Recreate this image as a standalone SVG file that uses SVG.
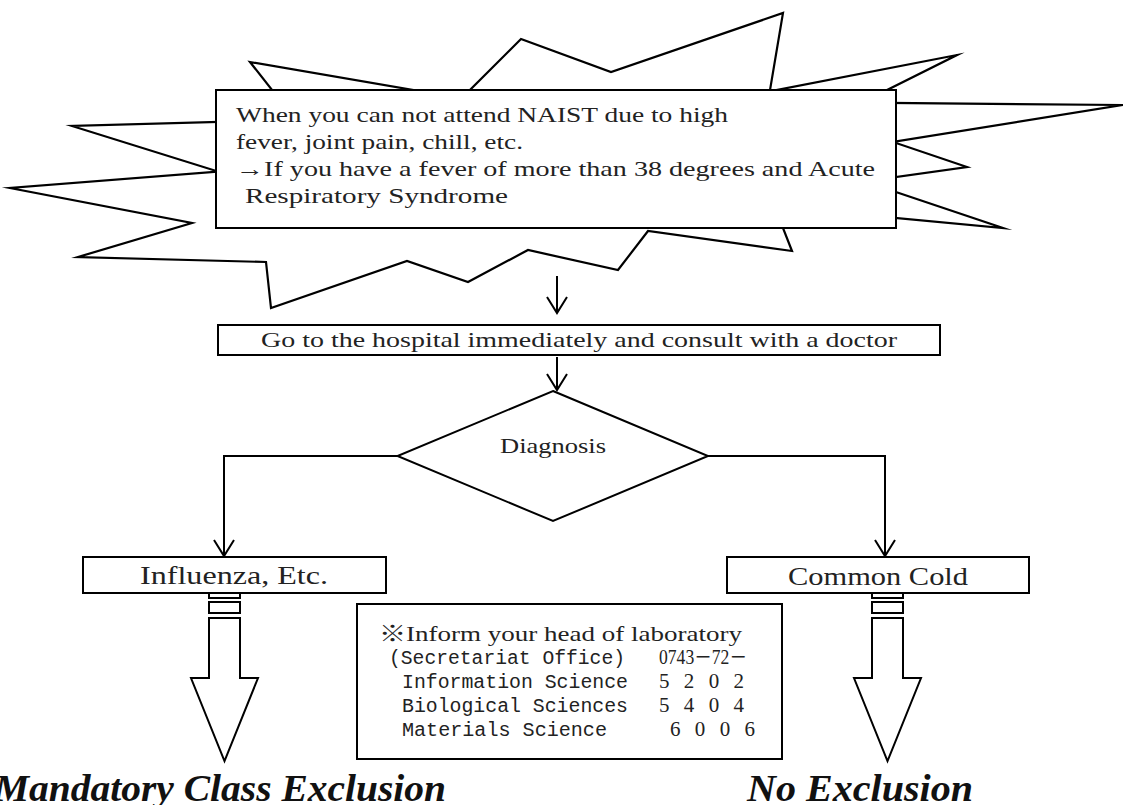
<svg xmlns="http://www.w3.org/2000/svg" width="1123" height="805" viewBox="0 0 1123 805">
<style>
.ln{fill:none;stroke:#000;stroke-width:2}
.ah{fill:none;stroke:#000;stroke-width:2;stroke-linejoin:miter}
.bx{fill:#fff;stroke:#000;stroke-width:2}
.st{fill:#fff;stroke:#000;stroke-width:2.2;stroke-linejoin:miter;stroke-miterlimit:20}
.t{font-family:"Liberation Serif","Noto Sans CJK JP",serif;fill:#222}
.m{font-family:"Liberation Mono","Noto Sans CJK JP",monospace;fill:#222}
.big{font-family:"Liberation Serif",serif;font-weight:bold;font-style:italic;font-size:37px;fill:#111}
</style>
<g id="start">
<polygon class="st" points="250,62 461.6,98.4 521,39 611,72 783,13 769.8,91.4 957,55 861.6,102.7 1122,105 893,142 967,167 864.6,181.5 1003,228 774.6,206.6 792,251 648,231 618,270 528,250 468,282 407,261 271,308 266,262 78,257 192,223 10,188 218,171.5 72,126 295.4,119.8"/>
<rect class="bx" x="216" y="90" width="680" height="138"/>
<text class="t" font-size="22" x="236" y="122" textLength="492" lengthAdjust="spacingAndGlyphs">When you can not attend NAIST due to high</text>
<text class="t" font-size="22" x="236" y="149" textLength="287" lengthAdjust="spacingAndGlyphs">fever, joint pain, chill, etc.</text>
<text class="t" font-size="22" x="236" y="176" textLength="639" lengthAdjust="spacingAndGlyphs">→If you have a fever of more than 38 degrees and Acute</text>
<text class="t" font-size="22" x="245" y="203" textLength="263" lengthAdjust="spacingAndGlyphs">Respiratory Syndrome</text>
</g>
<g id="hospital">
<rect class="bx" x="218" y="325" width="722" height="30"/>
<text class="t" font-size="22" x="261" y="347" textLength="636" lengthAdjust="spacingAndGlyphs">Go to the hospital immediately and consult with a doctor</text>
</g>
<g id="diagnosis">
<polygon class="bx" points="553,391 708,456 553,521 397.5,456"/>
<text class="t" font-size="22" x="553" y="453" text-anchor="middle" textLength="106" lengthAdjust="spacingAndGlyphs">Diagnosis</text>
</g>
<g id="influenza">
<rect class="bx" x="83" y="557" width="303" height="36"/>
<text class="t" font-size="26" x="140" y="584" textLength="188" lengthAdjust="spacingAndGlyphs">Influenza, Etc.</text>
</g>
<g id="cold">
<rect class="bx" x="727" y="557" width="302" height="36"/>
<text class="t" font-size="26" x="788" y="585" textLength="180" lengthAdjust="spacingAndGlyphs">Common Cold</text>
</g>
<g id="info">
<rect class="bx" x="357" y="604" width="425" height="155"/>
<text class="t" font-size="22" x="379" y="641" textLength="363" lengthAdjust="spacingAndGlyphs">※Inform your head of laboratory</text>
<text class="m" font-size="20" x="389" y="664" textLength="236" lengthAdjust="spacingAndGlyphs">(Secretariat Office)</text>
<text class="t" font-size="21" x="659" y="664" textLength="88" lengthAdjust="spacingAndGlyphs">0743－72－</text>
<text class="m" font-size="20" x="402" y="688" textLength="226" lengthAdjust="spacingAndGlyphs">Information Science</text>
<text class="t" font-size="21" x="659" y="688" textLength="85" lengthAdjust="spacing">5 2 0 2</text>
<text class="m" font-size="20" x="402" y="712" textLength="226" lengthAdjust="spacingAndGlyphs">Biological Sciences</text>
<text class="t" font-size="21" x="659" y="712" textLength="85" lengthAdjust="spacing">5 4 0 4</text>
<text class="m" font-size="20" x="402" y="736" textLength="205" lengthAdjust="spacingAndGlyphs">Materials Science</text>
<text class="t" font-size="21" x="670" y="736" textLength="85" lengthAdjust="spacing">6 0 0 6</text>
</g>
<g id="mandatory">
<rect class="bx" x="209" y="593" width="31" height="5"/>
<rect class="bx" x="209" y="602" width="31" height="11"/>
<path class="bx" d="M209,618 L240,618 L240,678 L258,678 L224.5,761 L191,678 L209,678 Z"/>
<text class="big" x="-6" y="801" textLength="452" lengthAdjust="spacingAndGlyphs">Mandatory Class Exclusion</text>
</g>
<g id="noexclusion">
<rect class="bx" x="872" y="593" width="31" height="5"/>
<rect class="bx" x="872" y="602" width="31" height="11"/>
<path class="bx" d="M872,618 L903,618 L903,678 L921,678 L887.5,761 L854,678 L872,678 Z"/>
<text class="big" x="747" y="801" textLength="226" lengthAdjust="spacingAndGlyphs">No Exclusion</text>
</g>
<g id="connectors">
<line class="ln" x1="557" y1="276" x2="557" y2="312"/>
<path class="ah" d="M547,297 L557,313 L567,297"/>
<line class="ln" x1="557" y1="357" x2="557" y2="389"/>
<path class="ah" d="M547,374 L557,390 L567,374"/>
<polyline class="ln" points="397.5,456 224,456 224,555"/>
<path class="ah" d="M214,540 L224,556 L234,540"/>
<polyline class="ln" points="708,456 885,456 885,555"/>
<path class="ah" d="M875,540 L885,556 L895,540"/>
</g>
</svg>
